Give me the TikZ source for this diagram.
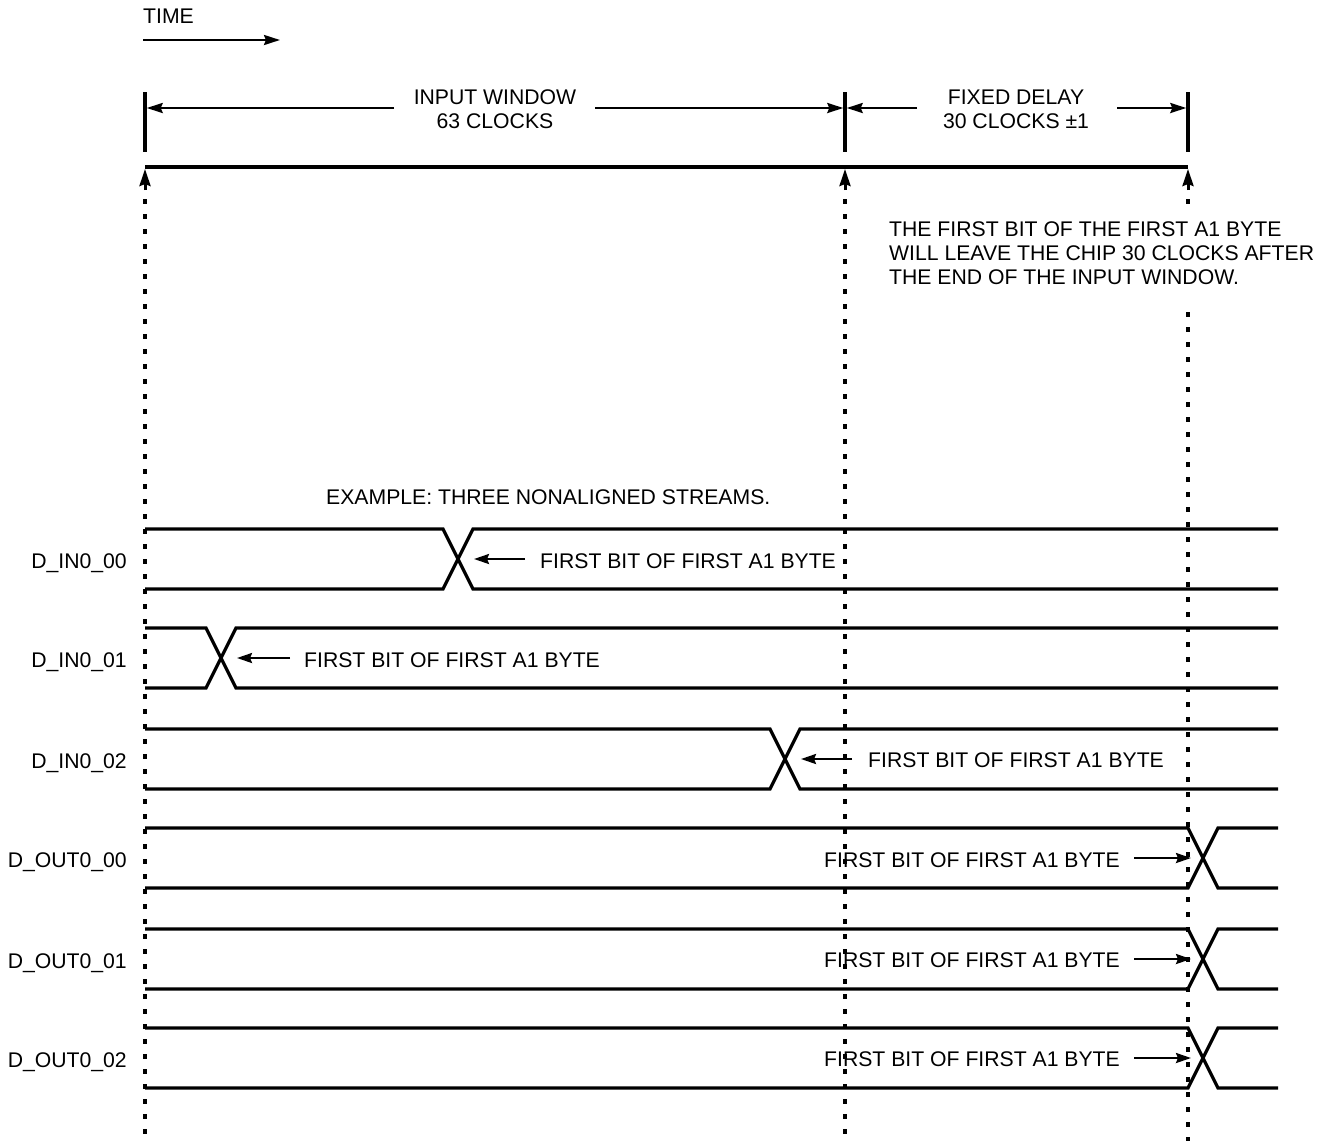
\documentclass[tikz,border=0pt]{standalone}
\usepackage{fontspec}
\setmainfont{Liberation Sans}
\usetikzlibrary{arrows.meta}
\begin{document}
\begin{tikzpicture}[x=1pt,y=-1pt,
  lbl/.style={inner sep=0pt, font=\fontsize{21.2}{24}\selectfont, text height=15.2pt, text depth=0pt},
  sig/.style={line width=3.2pt, line cap=butt, line join=miter},
  dimarrow/.style={line width=2.4pt, -{Stealth[length=16pt,width=10pt,inset=2pt]}},
  tickline/.style={line width=3.4pt},
  guide/.style={line width=3.6pt, dash pattern=on 5pt off 10pt},
  uparrow/.style={line width=3pt, -{Stealth[length=17pt,width=11pt,inset=2pt]}},
  pointer/.style={line width=2.4pt, -{Stealth[length=15pt,width=10pt,inset=2pt]}},
]
\useasboundingbox (0,0) rectangle (1341,1141);

% TIME arrow
\node[lbl, anchor=west] (time) at (143,16) {TIME};
\coordinate (ts) at (143,40);
\coordinate (te) at (280,40);
\draw[dimarrow] (ts) -- (te);

% marker positions
\coordinate (mA) at (145,0);
\coordinate (mB) at (845,0);
\coordinate (mC) at (1188,0);

% dimension ticks
\foreach \m in {mA,mB,mC} {
  \draw[tickline] (\m |- 0,92) -- (\m |- 0,152);
}

% INPUT WINDOW
\node[lbl] (iw1) at (495,97) {INPUT WINDOW};
\node[lbl] (iw2) at (495,121) {63 CLOCKS};
\coordinate (iwl) at (394,108);
\coordinate (iwr) at (595,108);
\draw[dimarrow] (iwl) -- (146.7,108);
\draw[dimarrow] (iwr) -- (843.3,108);

% FIXED DELAY
\node[lbl] (fd1) at (1016,97) {FIXED DELAY};
\node[lbl] (fd2) at (1016,121) {30 CLOCKS ±1};
\coordinate (fdl) at (917,108);
\coordinate (fdr) at (1117,108);
\draw[dimarrow] (fdl) -- (846.7,108);
\draw[dimarrow] (fdr) -- (1186.3,108);

% thick time bar
\draw[tickline] (mA |- 0,167) -- (mC |- 0,167);

% up arrows and dotted guides
\foreach \m in {mA,mB,mC} {
  \draw[uparrow] (\m |- 0,190) -- (\m |- 0,169);
}
\draw[guide, dash phase=-9pt] (mA |- 0,190) -- (mA |- 0,1141);
\draw[guide, dash phase=-9pt] (mB |- 0,190) -- (mB |- 0,1141);
\draw[guide, dash phase=-9pt] (mC |- 0,190) -- (mC |- 0,206);
\draw[guide] (mC |- 0,312) -- (mC |- 0,1141);

% note
\node[lbl, anchor=west] (n1) at (889,229) {THE FIRST BIT OF THE FIRST A1 BYTE};
\node[lbl, anchor=west] (n2) at (889,253) {WILL LEAVE THE CHIP 30 CLOCKS AFTER};
\node[lbl, anchor=west] (n3) at (889,277) {THE END OF THE INPUT WINDOW.};

% example caption
\node[lbl, anchor=west] (ex) at (326,497) {EXAMPLE: THREE NONALIGNED STREAMS.};

% signals
\foreach \nm/\txt/\top/\xc in {s0/D\_IN0\_00/529/443, s1/D\_IN0\_01/628/206, s2/D\_IN0\_02/729/770,
                              s3/D\_OUT0\_00/828/1188, s4/D\_OUT0\_01/929/1188, s5/D\_OUT0\_02/1028/1188} {
  \pgfmathsetmacro{\bot}{\top+60}
  \pgfmathsetmacro{\mid}{\top+30}
  \pgfmathsetmacro{\xe}{\xc+30}
  \draw[sig] (145,\top) -- (\xc,\top) -- (\xe,\bot) -- (1278,\bot);
  \draw[sig] (145,\bot) -- (\xc,\bot) -- (\xe,\top) -- (1278,\top);
  \coordinate (\nm x) at (\xc+15,\mid);
  \node[lbl, anchor=east] (\nm) at (127,\mid+1.5) {\txt};
}

% pointer labels
\node[lbl, anchor=west] (p0) at (540,561) {FIRST BIT OF FIRST A1 BYTE};
\draw[pointer] ([xshift=-15pt]p0.west |- s0x) -- ([xshift=16pt]s0x);
\node[lbl, anchor=west] (p1) at (304,660) {FIRST BIT OF FIRST A1 BYTE};
\draw[pointer] ([xshift=-14pt]p1.west |- s1x) -- ([xshift=16pt]s1x);
\node[lbl, anchor=west] (p2) at (868,760) {FIRST BIT OF FIRST A1 BYTE};
\draw[pointer] ([xshift=-16pt]p2.west |- s2x) -- ([xshift=16pt]s2x);
\node[lbl, anchor=east] (p3) at (1120,860) {FIRST BIT OF FIRST A1 BYTE};
\draw[pointer] ([xshift=14pt]p3.east |- s3x) -- ([xshift=-12pt]s3x);
\node[lbl, anchor=east] (p4) at (1120,960) {FIRST BIT OF FIRST A1 BYTE};
\draw[pointer] ([xshift=14pt]p4.east |- s4x) -- ([xshift=-12pt]s4x);
\node[lbl, anchor=east] (p5) at (1120,1059) {FIRST BIT OF FIRST A1 BYTE};
\draw[pointer] ([xshift=14pt]p5.east |- s5x) -- ([xshift=-12pt]s5x);
\end{tikzpicture}
\end{document}
